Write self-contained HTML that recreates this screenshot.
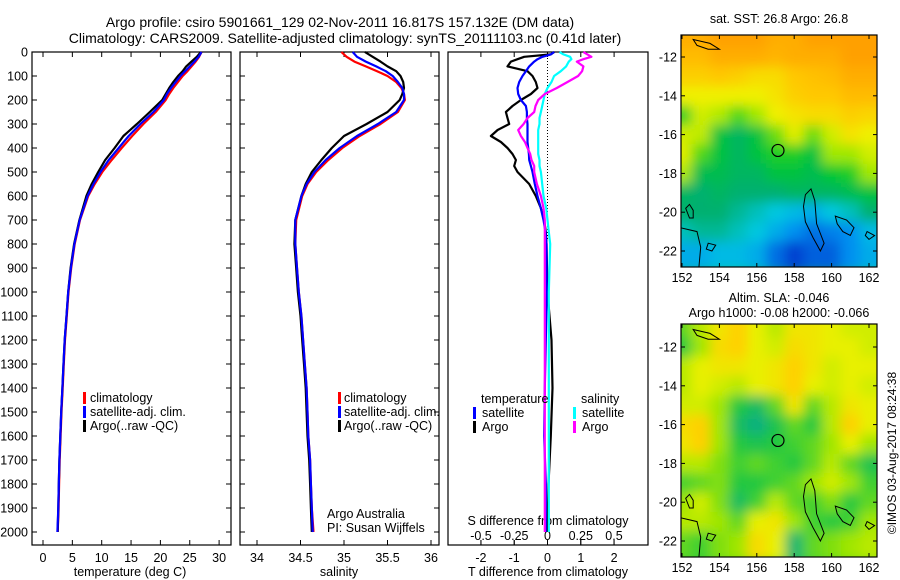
<!DOCTYPE html>
<html><head><meta charset="utf-8"><style>
html,body{margin:0;padding:0;background:#fff;}
svg{display:block;font-family:"Liberation Sans",sans-serif;}
</style></head><body>
<svg id="fig" width="900" height="580" viewBox="0 0 900 580" xmlns="http://www.w3.org/2000/svg">
<defs>
<filter id="blur" x="-5%" y="-5%" width="110%" height="110%"><feGaussianBlur stdDeviation="6"/></filter>
<clipPath id="clipM1"><rect x="681" y="35" width="196" height="232"/></clipPath>
<clipPath id="clipM2"><rect x="681" y="324" width="196" height="233"/></clipPath>
</defs>
<text x="340" y="27" font-size="14" text-anchor="middle">Argo profile: csiro 5901661_129 02-Nov-2011 16.817S 157.132E (DM data)</text>
<text x="345" y="43" font-size="14" text-anchor="middle">Climatology: CARS2009. Satellite-adjusted climatology: synTS_20111103.nc (0.41d later)</text>
<g id="g1"></g>
<g id="g2"></g>
<g id="g3"></g>
<g id="g4"></g>
<g id="g5"></g>
<text transform="translate(896,453) rotate(-90)" font-size="12" text-anchor="middle">©IMOS 03-Aug-2017 08:24:38</text>
</svg>
<script>
// ---- profile data ----
const depths = [0,20,40,60,80,100,125,150,175,200,250,300,350,400,450,500,550,600,700,800,900,1000,1100,1200,1300,1400,1500,1600,1700,1800,1900,2000];
const tArgo = [26.9,26.2,25.3,24.4,23.8,23.0,22.2,21.5,20.9,20.3,18.2,16.0,13.7,12.2,10.6,9.4,8.3,7.4,6.2,5.3,4.7,4.3,4.0,3.7,3.5,3.3,3.1,2.95,2.8,2.7,2.6,2.5];
const tClim = [27.0,26.6,26.0,25.3,24.6,23.8,23.0,22.2,21.5,20.9,19.2,17.1,15.2,13.4,11.7,10.1,8.8,7.7,6.3,5.4,4.8,4.35,4.05,3.75,3.55,3.35,3.15,3.0,2.85,2.75,2.65,2.5];
const tSat = [27.0,26.5,25.8,25.0,24.2,23.4,22.6,21.8,21.1,20.6,18.8,16.6,14.6,12.9,11.2,9.8,8.6,7.6,6.25,5.35,4.75,4.3,4.0,3.7,3.5,3.3,3.1,2.95,2.8,2.7,2.6,2.45];
const sArgo = [35.24,35.33,35.42,35.5,35.6,35.65,35.68,35.69,35.67,35.64,35.5,35.26,35.0,34.86,34.74,34.63,34.56,34.51,34.44,34.43,34.45,34.47,34.5,34.52,34.54,34.56,34.57,34.58,34.6,34.61,34.62,34.63];
const sClim = [34.97,35.03,35.12,35.25,35.38,35.5,35.6,35.66,35.69,35.7,35.62,35.42,35.18,34.98,34.82,34.68,34.58,34.52,34.45,34.44,34.46,34.48,34.51,34.53,34.55,34.57,34.58,34.59,34.61,34.62,34.63,34.65];
const sSat = [35.1,35.15,35.25,35.37,35.48,35.56,35.62,35.67,35.69,35.69,35.6,35.39,35.15,34.95,34.79,34.66,34.57,34.51,34.44,34.44,34.46,34.48,34.51,34.53,34.55,34.57,34.58,34.59,34.61,34.62,34.63,34.64];
// ---- difference data ----
const dDepths = [0,10,20,30,40,60,80,100,125,150,175,200,225,250,275,300,325,350,375,400,425,450,475,500,550,600,650,700,750,800,1000,1200,1400,1600,1800,2000];
const tdArgo = [0.2,0.1,-0.7,-0.9,-1.1,-1.2,-0.6,-0.45,-0.35,-0.3,-0.5,-0.8,-1.05,-1.25,-1.2,-1.15,-1.5,-1.7,-1.4,-1.2,-1.05,-0.95,-1.0,-0.9,-0.55,-0.35,-0.2,-0.1,-0.05,-0.03,0.0,0.12,0.15,0.1,0.03,0.0];
const tdSat = [0.2,0.1,-0.15,-0.3,-0.4,-0.55,-0.65,-0.75,-0.85,-0.9,-0.88,-0.8,-0.65,-0.62,-0.62,-0.6,-0.6,-0.6,-0.6,-0.58,-0.56,-0.55,-0.5,-0.45,-0.38,-0.3,-0.2,-0.12,-0.06,-0.03,-0.02,-0.05,-0.08,-0.1,-0.05,-0.05];
const sdArgo = [0.27,0.3,0.33,0.27,0.22,0.27,0.26,0.23,0.15,0.07,-0.02,-0.07,-0.09,-0.1,-0.15,-0.18,-0.22,-0.2,-0.17,-0.15,-0.13,-0.12,-0.1,-0.1,-0.08,-0.05,-0.03,-0.02,-0.02,-0.02,-0.02,-0.02,-0.02,-0.02,-0.02,-0.02];
const sdSat = [0.09,0.12,0.17,0.18,0.16,0.14,0.1,0.05,0.03,0.0,-0.02,-0.03,-0.04,-0.05,-0.06,-0.06,-0.07,-0.07,-0.07,-0.07,-0.07,-0.06,-0.06,-0.05,-0.04,-0.03,-0.01,0.0,0.01,0.02,0.01,0.01,0.01,0.01,0.01,0.01];
// ---- tick labels ----
const depthTicks = [0,100,200,300,400,500,600,700,800,900,1000,1100,1200,1300,1400,1500,1600,1700,1800,1900,2000];
const tempTicks = [0,5,10,15,20,25,30];
const salTicks = ["34","34.5","35","35.5","36"];
const tdTicks = [-2,-1,0,1,2];
const sdTicks = ["-0.5","-0.25","0","0.25","0.5"];
const lonTicks = [152,154,156,158,160,162];
const latTicks = [-12,-14,-16,-18,-20,-22];
// ---- map data (rows lat -11..-22, cols lon 152..162) ----
const sstGrid = [
[28,28,28.2,28.3,28.2,28,28,28.2,28.3,28.3,28.3],
[27.8,27.8,28,28,28,27.9,28,28,28,28.2,28.3],
[27.5,27.5,27.6,27.5,27.3,27.3,27.6,27.7,27.8,28,28],
[27,27,27,27,27,27.2,27.5,27.6,27.6,27.8,27.8],
[26,26.8,26.6,26.2,26.5,27,27.2,27.3,27.3,27.5,27.4],
[26.8,26.7,25.8,25.6,25.8,26.3,26.9,26.3,26.8,27.2,27],
[26.9,26.2,25.8,25.6,25.8,26,26,25.8,26.5,26.5,26.8],
[26.6,25.7,25.7,25.6,25.6,25.8,25.8,25.7,25.9,26,26.5],
[25.6,25.5,25.6,25.5,25.5,25.5,25.6,25.6,25.6,25.7,25.8],
[25.5,25.5,25.5,25.4,25.3,25.2,25.1,25,25.2,25.3,25.5],
[25.3,25.4,25.4,25.3,25.2,25,24.8,24.6,24.7,24.8,25.1],
[25,25,25.1,25.1,25,24.6,24.3,24.5,24.5,24.8,25]];
const slaGrid = [
[0,.03,.06,.08,.05,.03,.06,.06,.05,.04,.04],
[-.02,.02,.07,.08,.05,.04,.07,.06,.05,.05,.04],
[.03,.05,.06,.06,.05,.06,.08,.06,.04,.05,.05],
[.03,.05,.04,.03,.05,.06,.09,.05,.04,.05,.04],
[.04,.04,.02,-.02,-.04,0,.06,0,.03,.06,.05],
[.07,.08,.02,-.04,-.06,-.03,0,-.02,.03,.08,.05],
[.06,.08,.02,-.02,-.03,-.02,-.01,0,.02,.05,.02],
[.03,.03,.01,-.01,0,-.01,-.02,0,.03,0,-.03],
[-.01,0,.01,-.02,-.02,-.01,0,.02,.04,.02,-.01],
[.02,.04,.01,-.04,-.01,.03,0,-.01,.01,-.02,0],
[.03,.03,.02,0,.05,.06,.02,-.01,-.02,-.01,.02],
[0,-.01,.01,.02,.07,.05,-.05,0,.01,.02,.03]];
const sstStops = [24.3,24.8,25.2,25.5,25.9,26.5,27,27.6,28.2];
const slaStops = [-0.06,-0.02,0.02,0.05,0.08];

const NS="http://www.w3.org/2000/svg";
function mk(tag,attrs,parent){const e=document.createElementNS(NS,tag);for(const k in attrs)e.setAttribute(k,attrs[k]);parent.appendChild(e);return e;}
const yD = d => 52 + d*0.24;

function frame(g,x0,x1,y0,y1){
  const r=mk('rect',{x:x0,y:y0,width:x1-x0,height:y1-y0,fill:'none',stroke:'#000','stroke-width':1.2},g);
  
  
}
function depthTicksDraw(g,x0,x1,labels){
  depthTicks.forEach(d=>{
    const y=yD(d);
    mk('line',{x1:x0,x2:x0+5,y1:y,y2:y,stroke:'#000'},g);
    mk('line',{x1:x1-5,x2:x1,y1:y,y2:y,stroke:'#000'},g);
    if(labels){
      const t=mk('text',{x:x0-4,y:y+4.5,'font-size':12.5,'text-anchor':'end'},g);
      t.textContent=d;
      
      
    }
  });
}
function line(g,xs,ds,fx,color,w,name){
  const pts=xs.map((v,i)=>fx(v).toFixed(1)+','+yD(ds[i]).toFixed(1)).join(' ');
  const p=mk('polyline',{points:pts,fill:'none',stroke:color,'stroke-width':w,'stroke-linejoin':'round'},g);
  
  
}
function txt(g,x,y,s,fs,anchor,name){
  const t=mk('text',{x:x,y:y,'font-size':fs,'text-anchor':anchor||'start'},g);
  t.textContent=s;
  
  
  return t;
}
function legendBar(g,x,y,color,name){
  const r=mk('rect',{x:x,y:y-11,width:3,height:12,fill:color},g);
  
  
}

// ---- Panel 1: temperature ----
const g1=document.getElementById('g1');
const fT = v => 43 + v*5.87;
frame(g1,32,231,52,545);
depthTicksDraw(g1,32,231,true);
tempTicks.forEach(v=>{const x=fT(v);
  mk('line',{x1:x,x2:x,y1:545,y2:540,stroke:'#000'},g1);
  mk('line',{x1:x,x2:x,y1:52,y2:57,stroke:'#000'},g1);
  txt(g1,x,562,String(v),12.5,'middle','temp-tick-label');});
txt(g1,130,576,'temperature (deg C)',12.5,'middle','x-axis-title-temperature');
line(g1,tClim,depths,fT,'#ff0000',2.2,'temp-climatology-line');
line(g1,tArgo,depths,fT,'#000000',2.2,'temp-argo-line');
line(g1,tSat,depths,fT,'#0000ff',2.2,'temp-satellite-line');
legendBar(g1,83,403,'#ff0000','legend-climatology-swatch');
legendBar(g1,83,417,'#0000ff','legend-satellite-swatch');
legendBar(g1,83,431,'#000000','legend-argo-swatch');
txt(g1,90,402,'climatology',12.5,'start','legend-climatology');
txt(g1,90,416,'satellite-adj. clim.',12.5,'start','legend-satellite');
txt(g1,90,430,'Argo(..raw -QC)',12.5,'start','legend-argo');

// ---- Panel 2: salinity ----
const g2=document.getElementById('g2');
const fS = v => 257 + (v-34)*87;
frame(g2,240,439,52,545);
depthTicksDraw(g2,240,439,false);
salTicks.forEach(s=>{const x=fS(parseFloat(s));
  mk('line',{x1:x,x2:x,y1:545,y2:540,stroke:'#000'},g2);
  mk('line',{x1:x,x2:x,y1:52,y2:57,stroke:'#000'},g2);
  txt(g2,x,562,s,12.5,'middle','salinity-tick-label');});
txt(g2,339,576,'salinity',12.5,'middle','x-axis-title-salinity');
line(g2,sClim,depths,fS,'#ff0000',2.2,'sal-climatology-line');
line(g2,sArgo,depths,fS,'#000000',2.2,'sal-argo-line');
line(g2,sSat,depths,fS,'#0000ff',2.2,'sal-satellite-line');
legendBar(g2,338,403,'#ff0000','legend-climatology-swatch');
legendBar(g2,338,417,'#0000ff','legend-satellite-swatch');
legendBar(g2,338,431,'#000000','legend-argo-swatch');
txt(g2,344,402,'climatology',12.5,'start','legend-climatology');
txt(g2,344,416,'satellite-adj. clim.',12.5,'start','legend-satellite');
txt(g2,344,430,'Argo(..raw -QC)',12.5,'start','legend-argo');
txt(g2,327,518,'Argo Australia',12.5,'start','credit-argo-australia');
txt(g2,327,532,'PI: Susan Wijffels',12.5,'start','credit-pi');

// ---- Panel 3: differences ----
const g3=document.getElementById('g3');
const fTd = v => 547.5 + v*33.3;
const fSd = v => 547.5 + v*133;
frame(g3,448,648,52,545);
tdTicks.forEach(v=>{const x=fTd(v);
  mk('line',{x1:x,x2:x,y1:545,y2:540,stroke:'#000'},g3);
  mk('line',{x1:x,x2:x,y1:52,y2:57,stroke:'#000'},g3);
  txt(g3,x,562,String(v),12.5,'middle','tdiff-tick-label');});
sdTicks.forEach(s=>{const x=fSd(parseFloat(s));
  mk('line',{x1:x,x2:x,y1:545,y2:540,stroke:'#000'},g3);
  txt(g3,x,540,s,12.5,'middle','sdiff-tick-label');});
txt(g3,548,525,'S difference from climatology',12.5,'middle','s-diff-axis-title');
txt(g3,548,576,'T difference from climatology',12.5,'middle','t-diff-axis-title');
const zl=mk('line',{x1:547.5,x2:547.5,y1:52,y2:240,stroke:'#000','stroke-dasharray':'1,2'},g3);


line(g3,tdArgo,dDepths,fTd,'#000000',2.2,'tdiff-argo-line');
line(g3,tdSat,dDepths,fTd,'#0000ff',2.2,'tdiff-satellite-line');
line(g3,sdSat,dDepths,fSd,'#00ffff',2.2,'sdiff-satellite-line');
line(g3,sdArgo,dDepths,fSd,'#ff00ff',2.2,'sdiff-argo-line');
txt(g3,481,403,'temperature',12.5,'start','legend-temperature-header');
txt(g3,482,417,'satellite',12.5,'start','legend-t-satellite');
txt(g3,482,431,'Argo',12.5,'start','legend-t-argo');
txt(g3,581,403,'salinity',12.5,'start','legend-salinity-header');
txt(g3,582,417,'satellite',12.5,'start','legend-s-satellite');
txt(g3,582,431,'Argo',12.5,'start','legend-s-argo');
legendBar(g3,473,418,'#0000ff','legend-t-satellite-swatch');
legendBar(g3,473,432,'#000000','legend-t-argo-swatch');
legendBar(g3,573,418,'#00ffff','legend-s-satellite-swatch');
legendBar(g3,573,432,'#ff00ff','legend-s-argo-swatch');

// ---- maps ----
const sstCols=['#0040d0','#0090f0','#00c8e0','#00b070','#00c830','#a0e800','#f0f000','#ffc800','#ffa000'];
const slaCols=['#10b080','#20c840','#a0e600','#e8f000','#ffd000'];
function hex(c){return [1,3,5].map(i=>parseInt(c.substr(i,2),16));}
function cmap(v,stops,cols){
  if(v<=stops[0])return cols[0];
  for(let i=1;i<stops.length;i++){ if(v<=stops[i]){const f=(v-stops[i-1])/(stops[i]-stops[i-1]);
    const a=hex(cols[i-1]),b=hex(cols[i]);
    return 'rgb('+a.map((x,k)=>Math.round(x+(b[k]-x)*f)).join(',')+')';}}
  return cols[cols.length-1];
}
function drawMap(g,grid,stops,cols,top,bot,latY,clip,title1,title2){
  const x0=681,x1=877;
  const fx = lon => 682 + (lon-152)*18.7;
  const fy = lat => latY(lat);
  const cg=mk('g',{'clip-path':'url(#'+clip+')'},g);
  const bg=mk('rect',{x:x0,y:top,width:x1-x0,height:bot-top,fill:cmap(grid[6][5],stops,cols)},cg);
  const hg=mk('g',{filter:'url(#blur)'},cg);
  
  
  grid.forEach((row,r)=>row.forEach((v,c)=>{
    const lat=-11-r, lon=152+c;
    const cx=fx(lon), cy=fy(lat);
    const w=18.7, h=Math.abs(fy(lat-1)-fy(lat));
    const cell=mk('rect',{x:(cx-w/2-(c==0?12:0)).toFixed(1),y:(cy-h/2-(r==0?12:0)).toFixed(1),width:(w+(c==0||c==10?12:0)+0.5).toFixed(1),height:(h+(r==0||r==11?12:0)+0.5).toFixed(1),fill:cmap(v,stops,cols)},hg);
    
    
  }));
  // coastlines (approximate)
  const coast=[
    [[152.6,-20.3],[152.6,-19.9],[152.4,-19.6],[152.2,-19.8],[152.4,-20.3]],
    [[158.6,-19.1],[158.9,-18.8],[159.1,-19.4],[159.2,-20.6],[159.6,-21.6],[159.4,-22.0],[159.0,-21.3],[158.6,-20.5],[158.5,-19.7]],
    [[160.2,-20.2],[160.8,-20.4],[161.2,-20.8],[161.0,-21.2],[160.6,-21.0],[160.3,-20.6]],
    [[153.4,-21.6],[153.8,-21.7],[153.6,-22.0],[153.3,-21.9]],
    [[161.9,-21.0],[162.3,-21.2],[162.0,-21.4],[161.8,-21.2]],
    [[152.6,-11.1],[153.5,-11.3],[154.0,-11.6],[153.4,-11.6],[152.8,-11.4]]
  ];
  coast.forEach(poly=>{
    const p=mk('polygon',{points:poly.map(q=>fx(q[0]).toFixed(1)+','+fy(q[1]).toFixed(1)).join(' '),fill:'none',stroke:'#000','stroke-width':1},cg);
    
    
  });
  const ln=mk('polyline',{points:[[151.9,-20.8],[152.8,-21.0],[153.0,-21.8],[152.9,-22.9]].map(q=>fx(q[0]).toFixed(1)+','+fy(q[1]).toFixed(1)).join(' '),fill:'none',stroke:'#000'},cg);
  
  
  const c=mk('circle',{cx:fx(157.132),cy:fy(-16.817),r:6,fill:'none',stroke:'#000','stroke-width':1.2},g);
  
  
  const f=mk('rect',{x:x0,y:top,width:x1-x0,height:bot-top,fill:'none',stroke:'#000','stroke-width':1.2},g);
  
  
  lonTicks.forEach(lon=>{const x=fx(lon);
    mk('line',{x1:x,x2:x,y1:bot,y2:bot-4,stroke:'#000'},g);
    mk('line',{x1:x,x2:x,y1:top,y2:top+4,stroke:'#000'},g);
    txt(g,x,bot+15,String(lon),12.5,'middle','lon-tick-label');});
  latTicks.forEach(lat=>{const y=fy(lat);
    mk('line',{x1:x0,x2:x0+4,y1:y,y2:y,stroke:'#000'},g);
    mk('line',{x1:x1-4,x2:x1,y1:y,y2:y,stroke:'#000'},g);
    txt(g,x0-4,y+4.5,String(lat),12.5,'end','lat-tick-label');});
  if(title1) txt(g,779,title2?top-22:top-12,title1,12.5,'middle','map-title');
  if(title2) txt(g,779,top-7,title2,12.5,'middle','map-subtitle');
}
drawMap(document.getElementById('g4'),sstGrid,sstStops,sstCols,35,267,lat=>57+(-12-lat)*19.4,'clipM1','sat. SST: 26.8 Argo: 26.8',null);
drawMap(document.getElementById('g5'),slaGrid,slaStops,slaCols,324,557,lat=>347+(-12-lat)*19.4,'clipM2','Altim. SLA: -0.046','Argo h1000: -0.08 h2000: -0.066');
</script>
</body></html>
